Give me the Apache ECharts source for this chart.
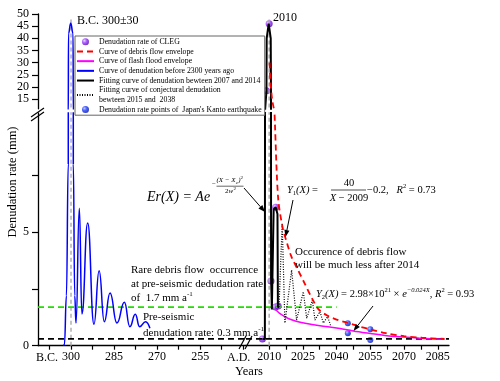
<!DOCTYPE html>
<html><head><meta charset="utf-8">
<script src="https://cdn.jsdelivr.net/npm/echarts@6/dist/echarts.min.js"></script>
<style>html,body{margin:0;padding:0;background:#fff}#c{width:500px;height:381px}</style>
</head><body><div id="c"></div>
<script>
// ---------- data (years B.C. stored as negative numbers) ----------
const bcYears = [-302.6,-302.3,-301.6,-300.95,-300.88,-300.1,-299.28,-299.2,-298.7,-298.26,-297.1,-296.2,-294.2,-292.0,-290.2,-288.4,-286.4,-284.0,-281.4,-279.5,-277.6,-276.1,-274.0,-272.5];
const bcRates = [0,0.05,2.2,8,42,46.2,42,8,2.2,1.0,6.05,1.4,5.4,0.95,3.3,1.06,2.32,1.0,1.91,0.84,1.38,0.84,1.06,0.77];

const debrisYears = [2010.2,2010.6,2011.3,2012.0,2012.6,2014,2016,2018,2020,2023,2026,2029,2032,2036,2040,2045,2050,2055,2062,2070,2078,2088];
const debrisRates = [30,22,15,11.5,9.7,6.5,5.2,4.5,3.9,3.3,2.7,2.1,1.6,1.32,1.15,1.0,0.85,0.72,0.55,0.42,0.35,0.3];

const flashYears = [2012.6,2015,2018.5,2022,2026,2032.6,2040,2047.4,2055,2062.3,2070,2077,2088];
const flashRates = [1.62,1.4,1.2,1.08,0.99,0.88,0.78,0.65,0.54,0.44,0.38,0.33,0.28];

const fitYears = [2007,2008.1,2008.15,2008.8,2008.9,2009.8,2010.7,2010.8,2010.85,2011.2,2011.8,2012.0,2012.9,2013.7,2013.9,2014.4];
const fitRates = [0.3,0.3,10,18.4,40,46,40,20,3,1.6,1.6,6.0,6.1,5.8,1.7,1.7];

const conjYears = [2014.4,2015.8,2017,2020,2022.2,2025.2,2026.7,2029.2,2030.4,2032.6,2034.1,2036,2037.5];
const conjRates = [1.7,5.4,1.0,3.33,1.13,2.38,1.2,2.0,1.13,1.5,1.0,1.28,0.84];

const clegYears = [2007,2008.8,2010,2010.8,2012.9,2012.8,2014];
const clegRates = [0.3,18.4,46,2.85,6.1,1.7,1.75];

const kantoYears = [2045,2045,2055,2055];
const kantoRates = [0.99,0.55,0.72,0.25];

const rareLevel = [1.7,1.7];
const preLevel = [0.3,0.3];
const markSpan = [0,48];

const bcTicks = [-307.5,-300,-292.5,-285,-277.5,-270,-262.5,-255,-247.5,-240];
const bcLabels = [-300,-285,-270,-255];
const adTicks = [2010,2017.5,2025,2032.5,2040,2047.5,2055,2062.5,2070,2077.5,2085];
const adLabels = [2010,2025,2040,2055,2070,2085];
const lowTicks = [0,2.5,5,7.5];
const lowLabels = [0,5];
const upTicks = [15,20,25,30,35,40,45,50];

// ---------- chart ----------
const SERIF = 'Liberation Serif';
const zip = (xs, ys) => xs.map((x, i) => [x, ys[i]]);
const BCMIN = -311.5, BCMAX = -239.03, ADMIN = 1999.7, ADMAX = 2090;

const N_CLEG = 'Denudation rate of CLEG';
const N_DEB = 'Curve of debris flow envelope';
const N_FLASH = 'Curve of flash flood envelope';
const N_BC = 'Curve of denudation before 2300 years ago';
const N_FIT = 'Fitting curve of denudation bewteen 2007 and 2014';
const N_CONJ = 'Fitting curve of conjectural denudation\nbewteen 2015 and  2038';
const N_KANTO = "Denudation rate points of  Japan's Kanto earthquake";

const axisLine = {show: true, onZero: false, lineStyle: {color: '#000', width: 1.3}};
const lbl = {color: '#000', fontFamily: SERIF, fontSize: 12};

function xA(grid, min, max, ticks, labels, show) {
  if (!show) return {type: 'value', gridIndex: grid, min, max, show: false};
  return {type: 'value', gridIndex: grid, min, max, axisLine,
    splitLine: {show: false},
    axisTick: {show: true, customValues: ticks, length: 4, lineStyle: {color: '#000', width: 1.2}},
    axisLabel: Object.assign({customValues: labels, margin: 5, formatter: v => String(Math.abs(v))}, lbl)};
}
function yA(grid, min, max, ticks, labels, show) {
  if (!show) return {type: 'value', gridIndex: grid, min, max, show: false};
  return {type: 'value', gridIndex: grid, min, max, axisLine,
    splitLine: {show: false},
    axisTick: {show: true, customValues: ticks, length: 6, lineStyle: {color: '#000', width: 1.2}},
    axisLabel: Object.assign({customValues: labels, margin: 9}, lbl)};
}

const gridBase = {outerBoundsMode: 'none', containLabel: false};
const grids = [
  Object.assign({left: 38, width: 208, top: 113, height: 232.7}, gridBase),
  Object.assign({left: 38, width: 208, top: 14, height: 94.8}, gridBase),
  Object.assign({left: 246, width: 203, top: 113, height: 232.7}, gridBase),
  Object.assign({left: 246, width: 203, top: 14, height: 94.8}, gridBase)
];

function line(name, g, data, ls, extra) {
  return Object.assign({type: 'line', name, xAxisIndex: g, yAxisIndex: g, data,
    symbol: 'none', lineStyle: ls, itemStyle: {color: ls.color}, animation: false, clip: true}, extra || {});
}
const gray = {color: '#aaaaaa', width: 1.4, type: [4, 3]};
const green = {color: '#22dd00', width: 1.6, type: [6, 4]};
const blackDash = {color: '#000', width: 1.6, type: [6, 4]};
const blue = {color: '#0000ff', width: 1.5};
const red = {color: '#ff0000', width: 1.8, type: [6, 4]};
const mag = {color: '#ff00ff', width: 1.5};
const fit = {color: '#000', width: 2};
const dot = {color: '#000', width: 1.2, type: [1, 1.5]};

const purpleGrad = {type: 'radial', x: 0.35, y: 0.35, r: 0.7, colorStops: [
  {offset: 0, color: '#e6ccff'}, {offset: 0.45, color: '#9933ff'}, {offset: 1, color: '#5000a8'}]};
const blueGrad = {type: 'radial', x: 0.35, y: 0.35, r: 0.7, colorStops: [
  {offset: 0, color: '#aab8ff'}, {offset: 0.45, color: '#1f3cff'}, {offset: 1, color: '#0010a0'}]};

const series = [
  line('m300', 0, zip([-300, -300], markSpan), gray),
  line('m300', 1, zip([-300, -300], markSpan), gray),
  line('m2010', 2, zip([2010, 2010], markSpan), gray),
  line('m2010', 3, zip([2010, 2010], markSpan), gray),
  line('rare', 0, zip([BCMIN, BCMAX], rareLevel), green),
  line('rare', 2, zip([ADMIN, 2040], rareLevel), green),
  line('pre', 0, zip([BCMIN, BCMAX], preLevel), blackDash),
  line('pre', 2, zip([ADMIN, ADMAX], preLevel), blackDash),
  line(N_BC, 0, zip(bcYears, bcRates), blue, {smooth: 0.5, smoothMonotone: 'x'}),
  line(N_BC, 1, zip(bcYears, bcRates), blue, {smooth: 0.5, smoothMonotone: 'x'}),
  line(N_FLASH, 2, zip(flashYears, flashRates), mag, {smooth: 0.3}),
  line(N_CONJ, 2, zip(conjYears, conjRates), dot),
  line(N_FIT, 2, zip(fitYears, fitRates), fit),
  line(N_FIT, 3, zip(fitYears, fitRates), fit),
  line(N_DEB, 2, zip(debrisYears, debrisRates), red, {smooth: 0.3}),
  line(N_DEB, 3, zip(debrisYears, debrisRates), red, {smooth: 0.3}),
  {type: 'scatter', name: N_KANTO, xAxisIndex: 2, yAxisIndex: 2, data: zip(kantoYears, kantoRates),
    symbolSize: 6, itemStyle: {color: blueGrad}, animation: false},
  {type: 'scatter', name: N_CLEG, xAxisIndex: 2, yAxisIndex: 2, data: zip(clegYears, clegRates),
    symbolSize: 7, itemStyle: {color: purpleGrad}, animation: false},
  {type: 'scatter', name: N_CLEG, xAxisIndex: 3, yAxisIndex: 3, data: zip(clegYears, clegRates),
    symbolSize: 7, itemStyle: {color: purpleGrad}, animation: false}
];

function txt(x, y, text, size, opts) {
  return {type: 'text', x, y, silent: true, z: 100, style: Object.assign({
    text, font: (opts && opts.italic ? 'italic ' : '') + size + 'px "' + SERIF + '"',
    fill: '#000', textAlign: 'left', textVerticalAlign: 'middle'}, opts && opts.style || {})};
}
function seg(x1, y1, x2, y2, w) {
  return {type: 'line', silent: true, z: 100, shape: {x1, y1, x2, y2}, style: {stroke: '#000', lineWidth: w || 1}};
}
function arrow(x1, y1, x2, y2) {
  const a = Math.atan2(y2 - y1, x2 - x1), L = 7, W = 2.6;
  const bx = x2 - L * Math.cos(a), by = y2 - L * Math.sin(a);
  const px = -Math.sin(a) * W, py = Math.cos(a) * W;
  return [seg(x1, y1, bx, by, 1),
    {type: 'polygon', silent: true, z: 100, shape: {points: [[x2, y2], [bx + px, by + py], [bx - px, by - py]]}, style: {fill: '#000'}}];
}
const rich = {
  i: {fontFamily: SERIF, fontStyle: 'italic', fontSize: 10.5},
  n: {fontFamily: SERIF, fontSize: 10.5},
  sup: {fontFamily: SERIF, fontSize: 6.5, verticalAlign: 'top', lineHeight: 14},
  supi: {fontFamily: SERIF, fontStyle: 'italic', fontSize: 6.5, verticalAlign: 'top', lineHeight: 14},
  sub: {fontFamily: SERIF, fontSize: 6.5, verticalAlign: 'bottom', lineHeight: 14},
  t: {fontFamily: SERIF, fontSize: 11},
  tsup: {fontFamily: SERIF, fontSize: 7, verticalAlign: 'top', lineHeight: 14}
};
function rtxt(x, y, text, align) {
  return {type: 'text', x, y, silent: true, z: 100, style: {text, rich, textAlign: align || 'left',
    textVerticalAlign: 'middle', fill: '#000', font: '10.5px "' + SERIF + '"'}};
}

const graphic = [
  txt(77, 21, 'B.C. 300±30', 12),
  txt(273, 18, '2010', 12),
  {type: 'text', x: 13, y: 182, rotation: Math.PI / 2, silent: true,
    style: {text: 'Denudation rate (mm)', font: '12.5px "' + SERIF + '"', fill: '#000', textAlign: 'center', textVerticalAlign: 'middle'}},
  txt(249, 372, 'Years', 12.5, {style: {textAlign: 'center'}}),
  txt(36, 358, 'B.C.', 12),
  txt(227, 358, 'A.D.', 12),
  // break marks
  seg(31, 117, 44, 108, 1.2), seg(31, 121, 44, 112, 1.2),
  seg(239, 349, 246, 336, 1.2), seg(245, 349, 252, 336, 1.2),
  // Er(X) with fractional exponent
  txt(147, 197, 'Er(X) = Ae', 14, {italic: true}),
  txt(212, 184, '−', 7),
  txt(216.5, 180.5, '(X − X', 7, {italic: true}),
  txt(235.8, 182.5, 'c', 5, {italic: true}),
  txt(238.2, 180.5, ')', 7, {italic: true}),
  txt(240.6, 177.6, '2', 5),
  seg(216.5, 186.2, 243.5, 186.2, 0.6),
  txt(225, 191.5, '2', 7),
  txt(228.6, 191.5, 'w', 7, {italic: true}),
  txt(233.4, 189, '2', 5),
  ...arrow(244, 188, 265, 212),
  // Y1
  rtxt(287, 190, '{i|Y}{sub|1}{i|(X)} ='),
  rtxt(349, 183, '{n|40}', 'center'),
  seg(331, 190, 366, 190, 0.7),
  rtxt(349, 198, '{i|X} {n|− 2009}', 'center'),
  rtxt(367, 190, '{n|−0.2,   }{i|R}{sup|2}{n| = 0.73}'),
  ...arrow(293, 200, 285.5, 237),
  // Y2
  rtxt(316, 294, '{i|Y}{sub|2}{i|(X)} = 2.98×10{sup|21} × {i|e}{supi|−0.024X}, {i|R}{sup|2} = 0.93'),
  ...arrow(373, 306, 353.5, 331),
  // notes
  txt(295, 252, 'Occurence of debris flow', 11),
  txt(295, 265, 'will be much less after 2014', 11),
  txt(131, 270, 'Rare debris flow  occurrence', 11),
  txt(131, 284, 'at pre-seismic dedudation rate', 11),
  rtxt(131, 298, '{t|of  1.7 mm a}{tsup|-1}'),
  txt(143, 317, 'Pre-seismic', 11),
  rtxt(143, 333, '{t|denudation rate: 0.3 mm a}{tsup|-1}')
];

const hideSym = {color: 'rgba(0,0,0,0)', opacity: 0, borderWidth: 0};
const chart = echarts.init(document.getElementById('c'), null, {renderer: 'canvas'});
chart.setOption({
  backgroundColor: '#fff',
  animation: false,
  grid: grids,
  xAxis: [xA(0, BCMIN, BCMAX, bcTicks, bcLabels, true), xA(1, BCMIN, BCMAX, null, null, false),
          xA(2, ADMIN, ADMAX, adTicks, adLabels, true), xA(3, ADMIN, ADMAX, null, null, false)],
  yAxis: [yA(0, 0, 10.25, lowTicks, lowLabels, true), yA(1, 11, 50, upTicks, upTicks, true),
          yA(2, 0, 10.25, null, null, false), yA(3, 11, 50, null, null, false)],
  legend: {
    orient: 'vertical', left: 75, top: 36, padding: [1, 3, 1, 1], itemGap: 0.2,
    itemWidth: 17, itemHeight: 7, borderColor: '#666', borderWidth: 1, selectedMode: false,
    backgroundColor: '#fff',
    textStyle: {fontFamily: SERIF, fontSize: 7.8, color: '#000', lineHeight: 9.5},
    data: [
      {name: N_CLEG},
      {name: N_DEB, itemStyle: hideSym},
      {name: N_FLASH, itemStyle: hideSym},
      {name: N_BC, itemStyle: hideSym},
      {name: N_FIT, itemStyle: hideSym},
      {name: N_CONJ, itemStyle: hideSym},
      {name: N_KANTO}
    ]
  },
  series,
  graphic
});
</script></body></html>
